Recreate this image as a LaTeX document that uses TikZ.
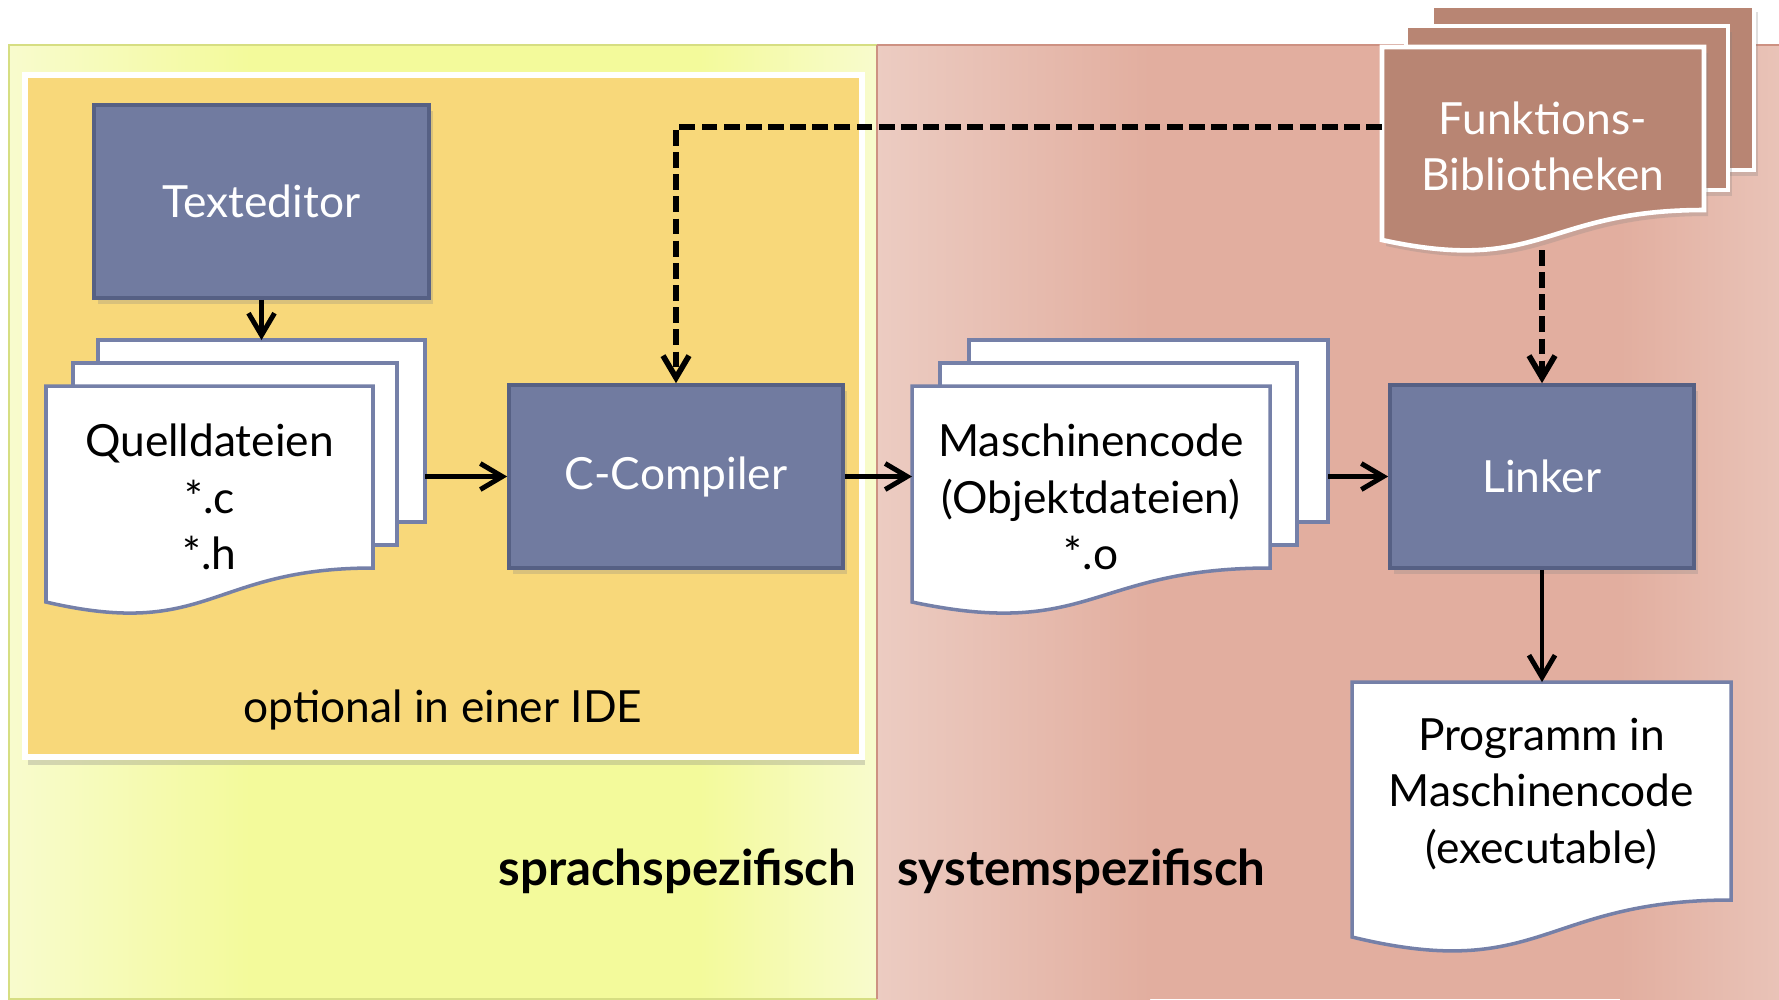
\documentclass[tikz,border=0pt]{standalone}
\usepackage{fontspec}
\setmainfont{Lato}
\usepackage{tikz}
\usetikzlibrary{arrows,arrows.meta,shadows,positioning,calc}

\definecolor{gelb}{RGB}{243,250,155}
\definecolor{gelbhell}{RGB}{248,251,205}
\definecolor{gelbrand}{RGB}{214,222,130}
\definecolor{idegelb}{RGB}{248,216,122}
\definecolor{rosa}{RGB}{226,174,159}
\definecolor{rosahell}{RGB}{236,204,194}
\definecolor{rosarand}{RGB}{205,145,130}
\definecolor{blaubox}{RGB}{113,123,160}
\definecolor{blaurand}{RGB}{86,96,132}
\definecolor{docrand}{RGB}{117,128,168}
\definecolor{braun}{RGB}{184,133,115}

\tikzset{
  box/.style={rectangle,fill=blaubox,draw=blaurand,line width=1pt,text=white,
    drop shadow={opacity=0.25,shadow xshift=0.4mm,shadow yshift=-0.6mm}},
  seite/.style={fill=white,draw=docrand,line width=1pt},
  bibseite/.style={fill=braun,draw=white,line width=1.3pt,
    drop shadow={opacity=0.25,shadow xshift=0.4mm,shadow yshift=-0.6mm}},
  pfeil/.style={->,line width=1.4pt},
  strich/.style={->,line width=1.6pt,dash pattern=on 4.5pt off 1.8pt}
}

\begin{document}
\begin{tikzpicture}[x=0.01cm,y=-0.01cm,font=\fontsize{12.6}{16}\selectfont,
  >={Straight Barb[length=2.2mm,width=2.6mm]}]
\useasboundingbox (0,0) rectangle (1779,999);

% Hintergrund
\fill[gelb] (9,45) rectangle (877,999);
\shade[left color=gelbhell,right color=gelb] (9,45) rectangle (250,999);
\shade[left color=gelb,right color=gelbhell] (700,45) rectangle (877,999);
\draw[gelbrand] (9,45) rectangle (877,999);
\fill[rosa] (877,45) rectangle (1779,999);
\shade[left color=rosahell,right color=rosa] (877,45) rectangle (1150,999);
\shade[left color=rosa,right color=rosahell!70!rosa] (1620,45) rectangle (1779,999);
\draw[rosarand] (877,45) -- (1779,45);
\draw[rosarand] (877,45) -- (877,999);

% IDE
\draw[fill=idegelb,draw=white,line width=1.5pt,
  drop shadow={opacity=0.3,shadow xshift=0.3mm,shadow yshift=-0.8mm}] (25,75) rectangle (862,757);
\node[anchor=base] (ide) at (443,722) {optional in einer IDE};

% Quelldateien
\draw[seite] (98,340) rectangle (425,522);
\draw[seite] (73,363) rectangle (397,545);
\draw[seite] (46,386) -- (373,386) -- (373,568) .. controls (209.5,568) and (209.5,640) .. (46,602) -- cycle;
\node[align=center] (quellen) at (209.5,497) {Quelldateien\\*.c\\*.h};
\coordinate (quellOben) at (261.5,340);
\coordinate (quellRechts) at (425,476.5);

% Maschinencode
\draw[seite] (969,340) rectangle (1328,522);
\draw[seite] (940,363) rectangle (1297,545);
\draw[seite] (912,386) -- (1270,386) -- (1270,568) .. controls (1091,568) and (1091,640) .. (912,602) -- cycle;
\node[align=center] (objekte) at (1091,497) {Maschinencode\\(Objektdateien)\\*.o};
\coordinate (objLinks) at (912,476.5);
\coordinate (objRechts) at (1328,476.5);

% Bibliotheken
\draw[bibseite] (1432,6) rectangle (1754,170);
\draw[bibseite] (1406,26) rectangle (1728,190);
\draw[bibseite] (1382,47) -- (1704,47) -- (1704,210) .. controls (1543,210) and (1543,275) .. (1382,240) -- cycle;
\node[align=center,text=white] (biblio) at (1543,146) {Funktions-\\Bibliotheken};
\coordinate (bibLinks) at (1382,127);
\coordinate (bibUnten) at (1542,250);

% Programm
\draw[seite] (1352,682) -- (1731,682) -- (1731,900) .. controls (1541.5,900) and (1541.5,983) .. (1352,937) -- cycle;
\node[align=center] (programm) at (1541.5,794) {Programm in\\Maschinencode\\(executable)};
\coordinate (progOben) at (1542,682);

% Werkzeuge
\node[box,minimum width=3.35cm,minimum height=1.93cm] (editor) at (261.5,201.5) {Texteditor};
\node[box,minimum width=3.34cm,minimum height=1.83cm] (compiler) at (676,476.5) {C-Compiler};
\node[box,minimum width=3.04cm,minimum height=1.83cm] (linker) at (1542,476.5) {Linker};

% Pfeile
\draw[pfeil] (editor.south) -- (quellOben);
\draw[pfeil] (quellRechts) -- (compiler.west);
\draw[pfeil] (compiler.east) -- (objLinks);
\draw[pfeil] (objRechts) -- (linker.west);
\draw[pfeil] (linker.south) -- (progOben);
\draw[strich] (bibLinks) -| (compiler.north);
\draw[strich] (bibUnten) -- (linker.north);

\node[anchor=base east,inner sep=0pt,font=\fontsize{14}{16}\selectfont\bfseries] (sprache) at (857,885) {sprachspezifisch};
\node[anchor=base west,inner sep=0pt,font=\fontsize{14}{16}\selectfont\bfseries] (system) at (897,885) {systemspezifisch};
\end{tikzpicture}
\end{document}
